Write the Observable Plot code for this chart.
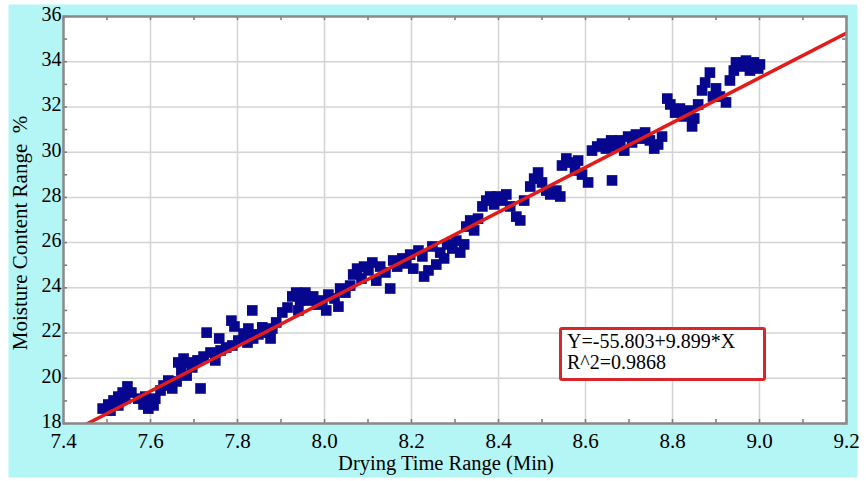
<!DOCTYPE html>
<html>
<head>
<meta charset="utf-8">
<script src="https://cdn.jsdelivr.net/npm/d3@7"></script>
<script src="https://cdn.jsdelivr.net/npm/@observablehq/plot@0.6"></script>
<style>
  body { margin: 0; background: #fff; }
  #chart { position: relative; width: 866px; height: 481px; font-family: "Liberation Serif", "Times New Roman", serif; }
  #fit-box {
    position: absolute; left: 559px; top: 327px; width: 207px; height: 54px;
    box-sizing: border-box; border: 3px solid #d8262a; border-radius: 3px; background: #fff;
    padding: 1px 0 0 5px; font-size: 20px; line-height: 21px; color: #000; white-space: nowrap;
  }
</style>
</head>
<body>
<div id="chart"></div>
<script>
// Drying time (min) and moisture content (%) for each sample
const dryingTime = [
  7.490,7.503,7.515,7.526,7.508,7.536,7.547,7.542,7.556,7.526,
  7.572,7.584,7.595,7.607,7.588,7.611,7.623,7.630,7.641,7.650,7.660,
  7.664,7.676,7.687,7.671,7.683,7.696,7.708,7.715,7.722,
  7.729,7.758,7.738,7.749,7.761,7.774,7.786,7.793,7.788,7.802,
  7.814,7.825,7.834,7.823,7.836,7.848,7.857,7.869,7.880,7.889,7.876,
  7.903,7.915,7.926,7.935,7.944,7.956,7.940,7.963,7.974,7.983,
  7.995,8.004,8.009,8.023,8.032,8.036,8.048,8.059,8.066,8.075,8.085,8.091,
  8.101,8.110,8.119,8.128,8.140,8.151,8.158,8.167,8.179,8.188,8.197,8.204,
  8.216,8.225,8.229,8.239,8.248,8.257,8.266,8.275,8.282,8.294,8.303,
  8.312,8.321,8.326,8.335,8.344,8.353,8.363,8.372,8.381,8.390,8.399,
  8.409,8.418,8.427,8.441,8.450,8.459,8.473,8.482,8.491,8.500,8.510,
  8.519,8.533,8.542,8.546,8.556,8.567,8.576,8.583,8.592,8.606,8.661,
  8.615,8.627,8.638,8.647,8.659,8.670,8.680,8.689,8.698,8.707,
  8.716,8.726,8.737,8.748,8.758,8.767,8.776,8.788,8.795,8.806,
  8.817,8.826,8.836,8.845,8.850,8.859,8.868,8.875,8.886,8.893,8.900,
  8.909,8.923,8.932,8.941,8.946,8.960,8.969,8.978,8.987,8.997,9.001
];
const moisture = [
  18.66,18.84,19.02,19.19,18.57,19.37,19.64,19.10,19.37,18.80,
  19.10,18.84,18.66,18.80,19.19,19.10,19.46,19.68,19.90,19.55,19.86,
  20.70,20.87,20.70,20.34,20.12,20.48,20.79,19.55,20.96,
  22.02,21.76,21.14,20.79,21.23,21.36,22.55,22.29,21.45,21.67,
  21.98,22.20,23.00,21.58,21.76,21.94,22.25,22.02,22.20,22.47,21.76,
  22.91,23.13,23.62,23.79,23.44,23.79,23.00,23.44,23.62,23.26,
  23.44,23.00,23.70,23.53,23.17,23.97,23.79,24.10,24.59,24.85,24.41,24.94,
  24.77,25.12,24.32,24.94,24.68,23.97,25.21,24.94,25.30,25.08,25.47,24.85,
  25.65,25.39,24.50,24.77,25.83,25.03,25.56,25.30,25.92,25.74,26.09,
  25.56,25.92,26.71,26.98,26.54,27.06,27.60,27.86,28.04,27.69,28.04,
  27.86,28.13,27.60,27.15,26.98,27.86,28.48,28.83,29.10,28.66,28.30,
  28.13,28.30,28.04,29.41,29.72,29.54,29.19,29.63,29.01,28.66,28.75,
  30.07,30.25,30.38,30.16,30.52,30.25,30.52,30.07,30.69,30.43,
  30.78,30.60,30.87,30.52,30.16,30.34,30.69,32.37,32.11,31.75,
  31.93,31.58,31.84,31.14,31.49,32.11,32.73,33.08,33.52,32.46,32.82,
  32.46,32.20,33.17,33.61,33.97,33.79,34.05,33.61,33.97,33.70,33.88
];

// Axis ticks
const xTicks = [7.4, 7.6, 7.8, 8.0, 8.2, 8.4, 8.6, 8.8, 9.0, 9.2];
const yTicks = [18, 20, 22, 24, 26, 28, 30, 32, 34, 36];

// Linear fit reported for the samples
const fitIntercept = -55.803;
const fitSlope = 9.899;
const fitR2 = 0.9868;

const xTitle = "Drying Time Range (Min)";
const yTitle = "Moisture Content Range  %";

const samples = dryingTime.map((x, i) => ({x, y: moisture[i]}));
const fitLine = [xTicks[0], xTicks[xTicks.length - 1]].map(x => ({x, y: fitIntercept + fitSlope * x}));

// Small tick marks along the frame edges
const xMinor = d3.range(74, 93).map(v => v / 10);
const yMinor = d3.range(18, 37);

const W = 866, H = 481, mt = 16, mr = 20, mb = 58, ml = 63;
const pw = W - ml - mr, ph = H - mt - mb;
const serif = '"Liberation Serif", "Times New Roman", serif';

const plot = Plot.plot({
  width: W,
  height: H,
  marginTop: mt,
  marginRight: mr,
  marginBottom: mb,
  marginLeft: ml,
  style: {fontFamily: serif, fontSize: "20px", color: "#000", background: "#fff"},
  x: {domain: [xTicks[0], xTicks[xTicks.length - 1]]},
  y: {domain: [yTicks[0], yTicks[yTicks.length - 1]]},
  marks: [
    Plot.frame({fill: "#b4f5f5", stroke: null, insetTop: -12, insetLeft: -55, insetRight: -11, insetBottom: -54}),
    Plot.frame({fill: "#fff", stroke: null}),
    Plot.gridX(xTicks, {stroke: "#d4d4d4", strokeOpacity: 1, strokeWidth: 1.5}),
    Plot.gridY(yTicks, {stroke: "#d4d4d4", strokeOpacity: 1, strokeWidth: 1.5}),
    Plot.tickX(xMinor, {x: d => d, insetTop: ph - 4, stroke: "#777", strokeWidth: 1.5}),
    Plot.tickX(xMinor, {x: d => d, insetBottom: ph - 4, stroke: "#777", strokeWidth: 1.5}),
    Plot.tickY(yMinor, {y: d => d, insetRight: pw - 4, stroke: "#777", strokeWidth: 1.5}),
    Plot.tickY(yMinor, {y: d => d, insetLeft: pw - 4, stroke: "#777", strokeWidth: 1.5}),
    Plot.dot(samples, {x: "x", y: "y", symbol: "square", r: 6, fill: "#06068f", stroke: null}),
    Plot.line(fitLine, {x: "x", y: "y", stroke: "#e41b1b", strokeWidth: 3.5, clip: true}),
    Plot.frame({stroke: "#8a8a8a", strokeWidth: 2.5}),
    Plot.axisX(xTicks, {tickFormat: d3.format(".1f"), tickSize: 0, tickPadding: 10, label: null, fontSize: 21}),
    Plot.axisY(yTicks, {tickSize: 0, tickPadding: 2, dy: -2, label: null, fontSize: 20}),
    Plot.text([xTitle], {frameAnchor: "bottom", dx: -9, dy: 46, fontSize: 20.5, fill: "#000"}),
    Plot.text([yTitle], {frameAnchor: "left", textAnchor: "middle", rotate: -90, dx: -43, dy: 13, fontSize: 21, fill: "#000"})
  ]
});

const chart = document.getElementById("chart");
chart.appendChild(plot);

const box = document.createElement("div");
box.id = "fit-box";
box.innerHTML = `Y=${fitIntercept}+${fitSlope}*X<br>R^2=${fitR2}`;
chart.appendChild(box);
</script>
</body>
</html>
